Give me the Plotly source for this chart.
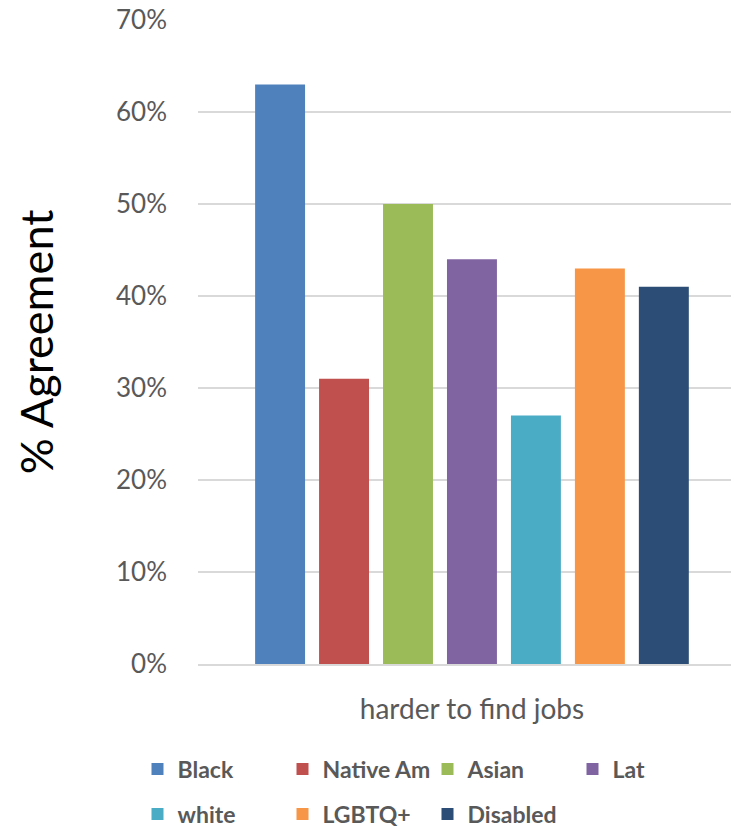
import plotly.graph_objects as go

# Share agreeing, by group
category = ["harder to find jobs"]
groups = ["Black", "Native Am", "Asian", "Lat", "white", "LGBTQ+", "Disabled"]
values = [63, 31, 50, 44, 27, 43, 41]
colors = ["#4F81BD", "#C0504D", "#9BBB59", "#8064A2", "#4BACC6", "#F79646", "#2C4D75"]
y_ticks = [0, 10, 20, 30, 40, 50, 60, 70]
y_tick_text = [f"{t}%" for t in y_ticks]

FONT = "Lato, 'Open Sans', sans-serif"
GREY = "#595959"

fig = go.Figure()
for i, (g, v, c) in enumerate(zip(groups, values, colors)):
    fig.add_trace(go.Bar(
        x=category, y=[v], name=g, marker_color=c, marker_line_width=0,
        legend="legend" if i < 4 else "legend2",
    ))

W, H = 731, 828
L, R, T, B = 198, 0, 20, 164
pw, ph = W - L - R, H - T - B

legend_common = dict(
    orientation="h", xanchor="left", yanchor="middle",
    entrywidth=100, entrywidthmode="pixels", itemclick=False,
    font=dict(family=FONT, size=23, color=GREY, weight="bold"),
    bgcolor="rgba(0,0,0,0)", borderwidth=0, tracegroupgap=0,
)
lx = (137.5 - L) / pw

fig.update_layout(
    width=W, height=H,
    margin=dict(l=L, r=R, t=T, b=B, autoexpand=False),
    paper_bgcolor="white", plot_bgcolor="white",
    barmode="group", bargap=0.16, bargroupgap=0.219,
    showlegend=True,
    legend=dict(x=lx, y=(664 - 769) / ph, **legend_common),
    legend2=dict(x=lx, y=(664 - 814) / ph, **legend_common),
    xaxis=dict(
        range=[-0.5 - 0.014, 0.5 - 0.014],
        showgrid=False, showline=True, linecolor="#D9D9D9", linewidth=2,
        ticks="", ticklabelstandoff=19,
        tickfont=dict(family=FONT, size=28, color=GREY),
        zeroline=False,
    ),
    yaxis=dict(
        range=[0, 70], tickvals=y_ticks, ticktext=y_tick_text,
        showgrid=True, gridcolor="#D9D9D9", gridwidth=1.5,
        zeroline=False, showline=False, ticks="",
        ticklabelstandoff=30,
        tickfont=dict(family=FONT, size=26, color=GREY),
        title=dict(text="% Agreement", font=dict(family=FONT, size=45, color="#000000"),
                   standoff=48),
    ),
)

fig.write_html("out.html")
